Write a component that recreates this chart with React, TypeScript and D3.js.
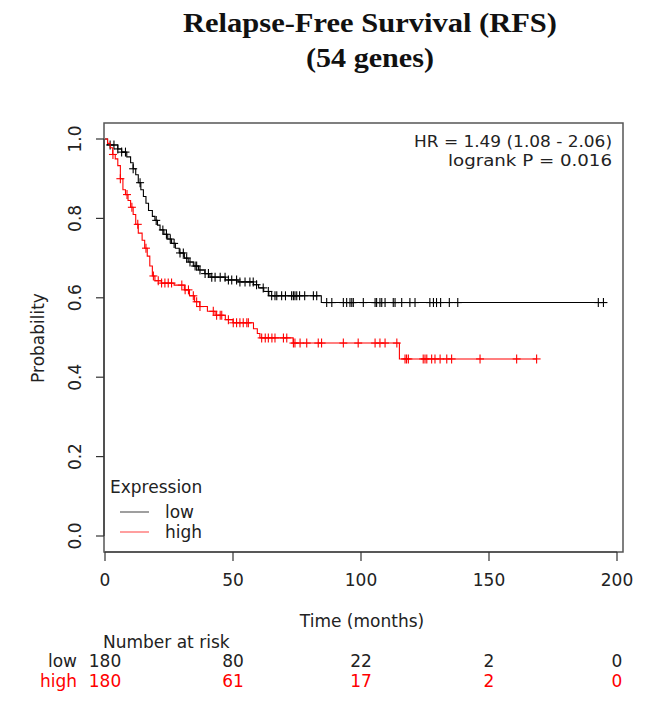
import React from "react";
import * as d3 from "d3";

const titleLines = ["Relapse-Free Survival (RFS)", "(54 genes)"];
const xTicks = [0, 50, 100, 150, 200];
const yTicks = [0, 0.2, 0.4, 0.6, 0.8, 1.0];
const groups = ["low", "high"];
const riskTimes = [0, 50, 100, 150, 200];
const riskLow = [180, 80, 22, 2, 0];
const riskHigh = [180, 61, 17, 2, 0];
const statLines = ["HR = 1.49 (1.08 - 2.06)", "logrank P = 0.016"];

// Kaplan-Meier step points (time, survival after step)
const lowTimes = [0, 1, 5, 6.5, 8.5, 10, 11, 12, 13, 14, 15, 16, 17, 18.5, 19.5, 20.5, 21.5, 23, 24.5, 26, 27.5, 29, 31, 32.5, 34.5, 36.5, 39, 41, 47, 52, 58, 60, 62, 64, 84.5];
const lowSurv = [1, 0.985, 0.975, 0.967, 0.955, 0.94, 0.925, 0.91, 0.89, 0.872, 0.855, 0.838, 0.82, 0.805, 0.795, 0.783, 0.771, 0.76, 0.748, 0.737, 0.725, 0.713, 0.7, 0.69, 0.68, 0.67, 0.661, 0.652, 0.645, 0.64, 0.633, 0.625, 0.616, 0.605, 0.588];
const lowEnd = 195;
const lowCensor = [2, 3.5, 5, 6.5, 8, 11, 13.7, 20, 22.6, 24, 25.5, 27, 29.3, 30.6, 31.9, 33.2, 35.2, 35.8, 37.1, 39.1, 40.4, 41.7, 43, 45, 46.9, 48.2, 49.5, 51.4, 52.7, 54.7, 56.6, 57.9, 59.2, 61.8, 63.8, 65.1, 66.4, 67.1, 69, 70.5, 72.9, 73.6, 74.2, 74.9, 76, 78, 81.4, 82.7, 86.6, 88.6, 93.1, 94.4, 95.7, 96.4, 97.0, 100.9, 105.5, 106.1, 107.4, 108.1, 109.4, 112.6, 113.3, 115.9, 119.1, 121.1, 126.9, 128.3, 129.5, 131.1, 134.5, 137.8, 192.7, 194.7];

const highTimes = [0, 1, 2, 3, 4, 5, 6, 7, 8, 9, 10, 11, 12, 13, 14.5, 15.5, 16.5, 17.5, 18.5, 19.5, 22, 27, 31, 33, 35, 37, 40, 43, 47, 50, 58, 59.5, 60.5, 73.5, 115];
const highSurv = [1, 0.989, 0.978, 0.961, 0.95, 0.933, 0.9, 0.872, 0.86, 0.845, 0.828, 0.81, 0.785, 0.763, 0.745, 0.725, 0.705, 0.68, 0.655, 0.643, 0.637, 0.632, 0.62, 0.605, 0.59, 0.578, 0.566, 0.556, 0.545, 0.537, 0.522, 0.51, 0.499, 0.486, 0.446];
const highEnd = 168.6;
const highCensor = [3.1, 6, 8.6, 10.5, 12.8, 16, 18.9, 20.8, 22.1, 23.4, 24.7, 26, 30, 31.3, 32.6, 34.5, 35.8, 37.1, 42.3, 43.6, 45, 45.6, 48.2, 50.1, 51.4, 52.7, 54, 55.4, 56, 61.2, 62.6, 63.8, 65.2, 66.4, 69.7, 71, 73.6, 74.2, 76.2, 78.8, 83.3, 84.6, 93.1, 98.9, 105.5, 107.4, 109.4, 114, 117.2, 117.8, 118.5, 124.3, 125, 125.7, 127.6, 128.9, 130.9, 133.5, 135.4, 146.5, 160.8, 168.6];

const RED = "#ff0000";
const FONT = "'DejaVu Sans', sans-serif";
const TXT = "#222";

function survAt(times: number[], surv: number[], t: number) {
  let s = surv[0];
  for (let i = 0; i < times.length; i++) if (times[i] <= t) s = surv[i];
  return s;
}

export default function App() {
  const W = 646, H = 701;
  const x = d3.scaleLinear().domain([0, 200]).range([105, 617]);
  const y = d3.scaleLinear().domain([0, 1]).range([536, 139]);
  const box = { l: 104, r: 623, t: 123, b: 552 };

  const line = d3.line<[number, number]>().x(d => x(d[0])).y(d => y(d[1])).curve(d3.curveStepAfter);

  const series = [
    { name: groups[0], times: lowTimes, surv: lowSurv, end: lowEnd, cens: lowCensor, color: "#000" },
    { name: groups[1], times: highTimes, surv: highSurv, end: highEnd, cens: highCensor, color: RED },
  ];

  return (
    <svg width={W} height={H} style={{ position: "absolute", left: 0, top: 0, background: "#fff" }}>
      <rect x={0} y={0} width={W} height={H} fill="#fff" />
      {titleLines.map((t, i) => (
        <text key={i} x={370} y={32 + i * 35} textAnchor="middle" fontFamily="'Liberation Serif', serif" fontWeight="bold" fontSize={28}
          textLength={i === 0 ? 374 : 128} lengthAdjust="spacingAndGlyphs" fill="#111">{t}</text>
      ))}
      <rect x={box.l} y={box.t} width={box.r - box.l} height={box.b - box.t} fill="none" stroke="#555" strokeWidth={1.5} />
      {/* x axis */}
      <line x1={x(0)} x2={x(200)} y1={box.b} y2={box.b} stroke="#333" strokeWidth={1.2} />
      {xTicks.map(t => (
        <g key={t}>
          <line x1={x(t)} x2={x(t)} y1={box.b} y2={box.b + 9} stroke="#333" strokeWidth={1.2} />
          <text x={x(t)} y={586} textAnchor="middle" fontFamily={FONT} fontSize={17} fill={TXT}>{t}</text>
        </g>
      ))}
      {/* y axis */}
      <line x1={box.l} x2={box.l} y1={y(0)} y2={y(1)} stroke="#333" strokeWidth={1.2} />
      {yTicks.map(t => (
        <g key={t}>
          <line x1={box.l - 8} x2={box.l} y1={y(t)} y2={y(t)} stroke="#333" strokeWidth={1.2} />
          <text transform={`translate(81,${y(t)}) rotate(-90)`} textAnchor="middle" fontFamily={FONT} fontSize={17} fill={TXT}>{t.toFixed(1)}</text>
        </g>
      ))}
      <text transform={`translate(44,338) rotate(-90)`} textAnchor="middle" fontFamily={FONT} fontSize={17} fill={TXT}>Probability</text>
      <text x={362} y={627} textAnchor="middle" fontFamily={FONT} fontSize={17} fill={TXT}>Time (months)</text>

      {/* curves */}
      {series.map(s => {
        const pts: [number, number][] = s.times.map((t, i) => [t, s.surv[i]] as [number, number]);
        pts.push([s.end, s.surv[s.surv.length - 1]]);
        return (
          <g key={s.name}>
            <path d={line(pts) || ""} fill="none" stroke={s.color} strokeWidth={1.1} />
            {s.cens.map((c, i) => {
              const cx = x(c), cy = y(survAt(s.times, s.surv, c));
              return (
                <g key={i} stroke={s.color} strokeWidth={1.1}>
                  <line x1={cx - 4} x2={cx + 4} y1={cy} y2={cy} />
                  <line x1={cx} x2={cx} y1={cy - 4.5} y2={cy + 4.5} />
                </g>
              );
            })}
          </g>
        );
      })}

      {/* stats */}
      {statLines.map((s, i) => (
        <text key={i} x={612} y={147 + i * 19} textAnchor="end" fontFamily={FONT} fontSize={16} fill={TXT}
          textLength={i === 0 ? 198 : 164} lengthAdjust="spacingAndGlyphs">{s}</text>
      ))}

      {/* legend */}
      <text x={110} y={493} fontFamily={FONT} fontSize={17} fill={TXT}>Expression</text>
      {series.map((s, i) => (
        <g key={s.name}>
          <line x1={120} x2={149} y1={512 + i * 20} y2={512 + i * 20} stroke={s.color} strokeWidth={1} opacity={0.75} />
          <text x={165} y={518 + i * 20} fontFamily={FONT} fontSize={17} fill={TXT}>{s.name}</text>
        </g>
      ))}

      {/* number at risk */}
      <text x={103} y={648} fontFamily={FONT} fontSize={17} fill={TXT}>Number at risk</text>
      {[riskLow, riskHigh].map((row, r) => (
        <g key={r} fill={r === 0 ? TXT : RED}>
          <text x={77} y={667 + r * 20} textAnchor="end" fontFamily={FONT} fontSize={17}>{groups[r]}</text>
          {row.map((v, i) => (
            <text key={i} x={x(riskTimes[i])} y={667 + r * 20} textAnchor="middle" fontFamily={FONT} fontSize={17}>{v}</text>
          ))}
        </g>
      ))}
    </svg>
  );
}
